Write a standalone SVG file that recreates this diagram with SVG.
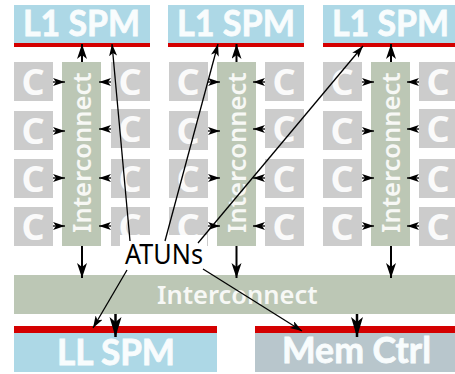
<svg xmlns="http://www.w3.org/2000/svg" width="455" height="374" viewBox="0 0 455 374">
<style>
text{font-family:"Noto Sans","Open Sans","Liberation Sans",sans-serif}
.spm{fill:#add8e6}.red{fill:#d40000}.core{fill:#cccccc}.ic{fill:#bcc7b5}.mc{fill:#b8c6cc}
.big{font-family:Lato,"Noto Sans",sans-serif;font-size:36px;font-weight:700;fill:#f8fcfd;stroke:#f8fcfd;stroke-width:.8px}
.c{font-size:36px;font-weight:700;fill:#fafafa;text-anchor:middle}
.it{font-size:25.500px;font-weight:600;fill:#f7f8f5}
.at{font-size:27px;fill:#000}
.l{stroke:#000;fill:none}
.a{stroke-width:1.3;marker-end:url(#s)}
.b{stroke-width:2;marker-end:url(#m)}
.t{stroke-width:2.5;marker-end:url(#w)}
</style>
<defs>
<marker id="s" markerUnits="userSpaceOnUse" markerWidth="14" markerHeight="10" refX="12" refY="4" orient="auto"><path d="M0 0L12 4L0 8L3 4Z" fill="#000"/></marker>
<marker id="m" markerUnits="userSpaceOnUse" markerWidth="18" markerHeight="12" refX="15" refY="5" orient="auto"><path d="M0 0L15 5L0 10L4 5Z" fill="#000"/></marker>
<marker id="w" markerUnits="userSpaceOnUse" markerWidth="22" markerHeight="14" refX="20" refY="6" orient="auto"><path d="M0 0L20 6L0 12L5 6Z" fill="#000"/></marker>
</defs>
<g id="spm1"><rect class="spm" x="14" y="5" width="136" height="38"/><rect class="red" x="14" y="43" width="136" height="4"/><text class="big" x="23" y="36" textLength="117" lengthAdjust="spacingAndGlyphs">L1 SPM</text></g>
<g id="spm2"><rect class="spm" x="168" y="5" width="136" height="38"/><rect class="red" x="168" y="43" width="136" height="4"/><text class="big" x="177" y="36" textLength="118" lengthAdjust="spacingAndGlyphs">L1 SPM</text></g>
<g id="spm3"><rect class="spm" x="323" y="5" width="132" height="38"/><rect class="red" x="323" y="43" width="132" height="4"/><text class="big" x="332" y="36" textLength="117" lengthAdjust="spacingAndGlyphs">L1 SPM</text></g>

<g id="c1l1"><rect class="core" x="14" y="62" width="39" height="39"/><text class="c" x="33" y="95">C</text></g>
<g id="c1l2"><rect class="core" x="14" y="111" width="39" height="39"/><text class="c" x="33" y="144">C</text></g>
<g id="c1l3"><rect class="core" x="14" y="159" width="39" height="39"/><text class="c" x="33" y="192">C</text></g>
<g id="c1l4"><rect class="core" x="14" y="207" width="39" height="39"/><text class="c" x="33" y="240">C</text></g>
<g id="c1r1"><rect class="core" x="111" y="62" width="39" height="39"/><text class="c" x="130" y="95">C</text></g>
<g id="c1r2"><rect class="core" x="111" y="109" width="39" height="39"/><text class="c" x="130" y="142">C</text></g>
<g id="c1r3"><rect class="core" x="111" y="159" width="39" height="39"/><text class="c" x="130" y="192">C</text></g>
<g id="c1r4"><rect class="core" x="111" y="207" width="39" height="39"/><text class="c" x="130" y="240">C</text></g>
<g id="c2l1"><rect class="core" x="169" y="62" width="39" height="39"/><text class="c" x="188" y="95">C</text></g>
<g id="c2l2"><rect class="core" x="169" y="111" width="39" height="39"/><text class="c" x="188" y="144">C</text></g>
<g id="c2l3"><rect class="core" x="169" y="159" width="39" height="39"/><text class="c" x="188" y="192">C</text></g>
<g id="c2l4"><rect class="core" x="169" y="207" width="39" height="39"/><text class="c" x="188" y="240">C</text></g>
<g id="c2r1"><rect class="core" x="265" y="62" width="39" height="39"/><text class="c" x="284" y="95">C</text></g>
<g id="c2r2"><rect class="core" x="265" y="109" width="39" height="39"/><text class="c" x="284" y="142">C</text></g>
<g id="c2r3"><rect class="core" x="265" y="159" width="39" height="39"/><text class="c" x="284" y="192">C</text></g>
<g id="c2r4"><rect class="core" x="265" y="207" width="39" height="39"/><text class="c" x="284" y="240">C</text></g>
<g id="c3l1"><rect class="core" x="323" y="62" width="39" height="39"/><text class="c" x="342" y="95">C</text></g>
<g id="c3l2"><rect class="core" x="323" y="111" width="39" height="39"/><text class="c" x="342" y="144">C</text></g>
<g id="c3l3"><rect class="core" x="323" y="159" width="39" height="39"/><text class="c" x="342" y="192">C</text></g>
<g id="c3l4"><rect class="core" x="323" y="207" width="39" height="39"/><text class="c" x="342" y="240">C</text></g>
<g id="c3r1"><rect class="core" x="419" y="62" width="36" height="39"/><text class="c" x="438" y="95">C</text></g>
<g id="c3r2"><rect class="core" x="419" y="109" width="36" height="39"/><text class="c" x="438" y="142">C</text></g>
<g id="c3r3"><rect class="core" x="419" y="159" width="36" height="39"/><text class="c" x="438" y="192">C</text></g>
<g id="c3r4"><rect class="core" x="419" y="207" width="36" height="39"/><text class="c" x="438" y="240">C</text></g>

<g id="ic1"><rect class="ic" x="62" y="62" width="39" height="184"/><text class="it" transform="translate(91 233) rotate(-90)">Interconnect</text></g>
<g id="ic2"><rect class="ic" x="217" y="62" width="39" height="184"/><text class="it" transform="translate(246 233) rotate(-90)">Interconnect</text></g>
<g id="ic3"><rect class="ic" x="371" y="62" width="39" height="184"/><text class="it" transform="translate(400 233) rotate(-90)">Interconnect</text></g>
<g id="icmain"><rect class="ic" x="14" y="275" width="441" height="39"/><text class="it" x="157" y="304">Interconnect</text></g>

<g id="llspm"><rect class="spm" x="14" y="333" width="203" height="39"/><rect class="red" x="14" y="326" width="203" height="7"/><text class="big" x="57" y="365" textLength="118" lengthAdjust="spacingAndGlyphs">LL SPM</text></g>
<g id="memctrl"><rect class="mc" x="255" y="333" width="200" height="39"/><rect class="red" x="255" y="326" width="200" height="7"/><text class="big" x="282" y="363" textLength="149" lengthAdjust="spacingAndGlyphs">Mem Ctrl</text></g>

<g id="atuns"><rect x="120" y="235" width="87" height="40" fill="#fff"/><text class="at" x="125" y="264" textLength="78" lengthAdjust="spacingAndGlyphs">ATUNs</text></g>

<g id="connectors" class="l">
<path class="l a" d="M53 82H65"/><path class="l a" d="M53 131H65"/><path class="l a" d="M53 178H65"/><path class="l a" d="M53 226H65"/>
<path class="l a" d="M111 82H99"/><path class="l a" d="M111 129H99"/><path class="l a" d="M111 178H99"/><path class="l a" d="M111 226H99"/>
<path class="l a" d="M208 82H220"/><path class="l a" d="M208 131H220"/><path class="l a" d="M208 178H220"/><path class="l a" d="M208 226H220"/>
<path class="l a" d="M265 82H253"/><path class="l a" d="M265 129H253"/><path class="l a" d="M265 178H253"/><path class="l a" d="M265 226H253"/>
<path class="l a" d="M362 82H374"/><path class="l a" d="M362 131H374"/><path class="l a" d="M362 178H374"/><path class="l a" d="M362 226H374"/>
<path class="l a" d="M419 82H407"/><path class="l a" d="M419 129H407"/><path class="l a" d="M419 178H407"/><path class="l a" d="M419 226H407"/>
<path class="l b" d="M82 62V44"/><path class="l b" d="M236.500 62V44"/><path class="l b" d="M391 62V44"/>
<path class="l b" d="M82 246V278"/><path class="l b" d="M236.500 246V278"/><path class="l b" d="M391 246V278"/>
<path class="l t" d="M115.500 314V337"/><path class="l t" d="M357 314V337"/>
<path class="l a" d="M130 241L112 44"/><path class="l a" d="M165 241L218 44"/><path class="l a" d="M198 243L363 46"/>
<path class="l a" d="M127 270L93 328"/><path class="l a" d="M203 269L302 331"/>
</g>
</svg>
